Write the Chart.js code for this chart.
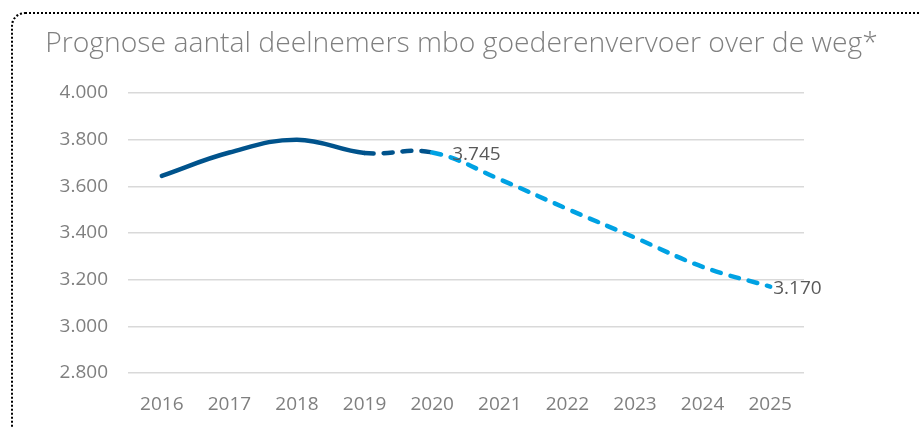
<!DOCTYPE html>
<html>
<head>
<meta charset="utf-8">
<script src="https://cdn.jsdelivr.net/npm/chart.js@4"></script>
<style>
  html, body { margin: 0; padding: 0; background: #fff; }
  #wrap { position: relative; width: 919px; height: 428px; overflow: hidden; }
  #frame {
    position: absolute; left: 11px; top: 12px; width: 960px; height: 460px;
    border: 2px dotted #000; border-radius: 14px; box-sizing: border-box;
  }
  #title {
    position: absolute; left: 2px; top: 22px; width: 919px; text-align: center;
    font-family: 'Open Sans'; font-weight: 300; font-size: 28.3px; color: #808080;
    white-space: nowrap;
  }
  canvas { position: absolute; left: 0; top: 0; }
</style>
</head>
<body>
<div id="wrap">
  <div id="frame"></div>
  <canvas id="chart" width="919" height="428"></canvas>
  <div id="title">Prognose aantal deelnemers mbo goederenvervoer over de weg*</div>
</div>
<script>
const years = ["2016", "2017", "2018", "2019", "2020", "2021", "2022", "2023", "2024", "2025"];
const deelnemers = [3645, 3745, 3800, 3743, 3745, 3630, 3503, 3380, 3255, 3170];
const labelledYears = ["2020", "2025"];
const yTicks = [2800, 3000, 3200, 3400, 3600, 3800, 4000];

const darkBlue = "#00538c";
const lightBlue = "#00a2e3";

const fmt = v => v.toLocaleString("nl-NL");

// draws the value labels to the right of the marked points
const labelShift = { "2020": 20, "2025": 3 };
const valueLabels = {
  id: "valueLabels",
  afterDatasetsDraw(chart) {
    const ctx = chart.ctx;
    const meta = chart.getDatasetMeta(0);
    ctx.save();
    ctx.font = "19px 'Open Sans'";
    ctx.fillStyle = "#595959";
    ctx.textBaseline = "middle";
    ctx.textAlign = "left";
    years.forEach((y, i) => {
      if (!labelledYears.includes(y)) return;
      const p = meta.data[i];
      ctx.fillText(fmt(deelnemers[i]), p.x + labelShift[y], p.y + 2);
    });
    ctx.restore();
  }
};

new Chart(document.getElementById("chart"), {
  type: "line",
  data: {
    labels: years,
    datasets: [{
      data: deelnemers,
      borderColor: darkBlue,
      borderWidth: 4.5,
      borderCapStyle: "round",
      tension: 0.4,
      pointRadius: 0,
      segment: {
        borderColor: c => c.p0DataIndex >= 4 ? lightBlue : darkBlue,
        borderDash: c => c.p0DataIndex >= 3 ? [9, 10] : undefined
      }
    }]
  },
  options: {
    responsive: false,
    animation: false,
    layout: { padding: { left: 0, right: 115, top: 93, bottom: 0 } },
    plugins: {
      legend: { display: false },
      tooltip: { enabled: false },
      title: { display: false }
    },
    scales: {
      x: {
        offset: true,
        grid: { display: false, drawTicks: false },
        border: { display: false },
        ticks: { color: "#7f7f7f", font: { family: "'Open Sans'", size: 19 }, padding: 20 },
        afterFit: s => { s.height = 55; }
      },
      y: {
        min: 2800,
        max: 4000,
        afterBuildTicks: s => { s.ticks = yTicks.map(v => ({ value: v })); },
        grid: { color: "#d9d9d9", lineWidth: 1.5, drawTicks: false },
        border: { display: false },
        ticks: { color: "#7f7f7f", font: { family: "'Open Sans'", size: 19 }, padding: 20, callback: v => fmt(v) },
        afterFit: s => { s.width = 128; }
      }
    }
  },
  plugins: [valueLabels]
});
</script>
</body>
</html>
